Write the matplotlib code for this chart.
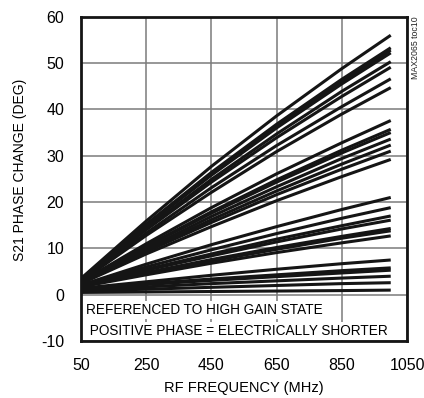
import matplotlib
matplotlib.use("Agg")
import matplotlib.pyplot as plt

plt.rcParams['font.family'] = ['Liberation Sans', 'DejaVu Sans']
plt.rcParams['axes.unicode_minus'] = False

# frequency points (MHz) shared by every trace
freq = [50, 250, 450, 650, 850, 1000]

# phase change (deg) per gain state, four groups of traces
group_a = [
    [3.5, 15.9, 27.7, 38.6, 48.8, 56.0],
    [3.4, 15.2, 26.4, 36.8, 46.5, 53.3],
    [3.3, 15.0, 26.1, 36.4, 46.0, 52.8],
    [3.3, 14.9, 25.8, 36.0, 45.5, 52.2],
    [3.2, 14.4, 24.9, 34.7, 43.9, 50.3],
    [3.1, 14.0, 24.3, 33.9, 42.8, 49.1],
    [3.0, 13.3, 23.1, 32.2, 40.6, 46.6],
    [2.9, 12.8, 22.1, 30.9, 39.0, 44.7],
]
group_b = [
    [2.8, 11.0, 18.8, 26.1, 32.8, 37.6],
    [2.7, 10.5, 17.9, 24.8, 31.2, 35.7],
    [2.7, 10.4, 17.6, 24.3, 30.6, 35.0],
    [2.6, 9.9, 16.9, 23.3, 29.4, 33.6],
    [2.5, 9.6, 16.2, 22.4, 28.2, 32.3],
    [2.5, 9.3, 15.6, 21.6, 27.1, 31.0],
    [2.4, 8.8, 14.7, 20.3, 25.5, 29.2],
]
group_c = [
    [2.1, 6.6, 10.8, 14.7, 18.4, 21.0],
    [2.0, 6.0, 9.7, 13.2, 16.5, 18.8],
    [1.9, 5.5, 8.8, 12.0, 14.9, 17.0],
    [1.9, 5.3, 8.4, 11.4, 14.2, 16.1],
    [1.8, 4.8, 7.6, 10.2, 12.6, 14.3],
    [1.8, 4.6, 7.3, 9.8, 12.2, 13.8],
    [1.7, 4.3, 6.8, 9.1, 11.2, 12.7],
]
group_d = [
    [1.4, 2.8, 4.2, 5.5, 6.7, 7.5],
    [1.3, 2.4, 3.4, 4.3, 5.2, 5.8],
    [1.2, 2.2, 3.1, 3.9, 4.7, 5.3],
    [1.0, 1.7, 2.4, 3.0, 3.6, 4.0],
    [0.8, 1.2, 1.6, 2.0, 2.4, 2.6],
    [0.5, 0.6, 0.7, 0.8, 0.9, 1.0],
]

x_ticks = [50, 250, 450, 650, 850, 1050]
y_ticks = [-10, 0, 10, 20, 30, 40, 50, 60]

fig = plt.figure(figsize=(4.24, 3.98), dpi=100)
ax = fig.add_axes([0.191, 0.143, 0.769, 0.815])

for trace in group_a + group_b + group_c + group_d:
    ax.plot(freq, trace, color='#151515', lw=2.2, solid_capstyle='butt', zorder=3)

ax.set_xlim(50, 1050)
ax.set_ylim(-10, 60)
ax.set_xticks(x_ticks)
ax.set_yticks(y_ticks)
ax.grid(True, color='#7a7a7a', lw=1.1, zorder=0)
ax.tick_params(length=0, labelsize=11.5, pad=12)
for s in ax.spines.values():
    s.set_linewidth(2.0)
    s.set_color('#151515')

ax.set_xlabel('RF FREQUENCY (MHz)', fontsize=10.5, labelpad=6)
ax.set_ylabel('S21 PHASE CHANGE (DEG)', fontsize=10)
ax.yaxis.set_label_coords(-0.165, 0.528)

box = dict(facecolor='white', edgecolor='none', pad=1.5)
ax.text(0.016, 0.096, 'REFERENCED TO HIGH GAIN STATE', transform=ax.transAxes,
        fontsize=9.8, va='center', ha='left', bbox=box, zorder=5)
ax.text(0.016, 0.03, ' POSITIVE PHASE = ELECTRICALLY SHORTER', transform=ax.transAxes,
        fontsize=9.8, va='center', ha='left', bbox=box, zorder=5)

fig.text(0.981, 0.96, 'MAX2065 toc10', rotation=90, fontsize=6.3, va='top', ha='center',
         color='#222222')

fig.savefig('out.png', dpi=100)
